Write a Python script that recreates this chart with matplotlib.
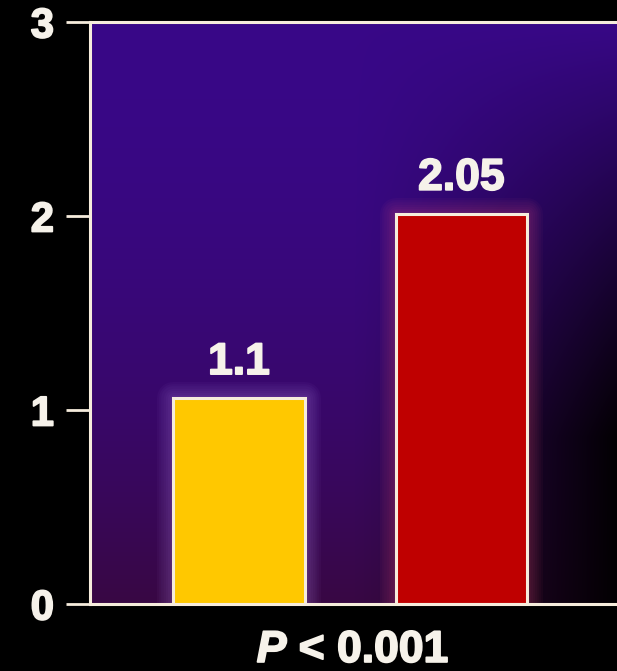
import numpy as np
import matplotlib
matplotlib.use("Agg")
import matplotlib.pyplot as plt
import matplotlib.patheffects as pe

plt.rcParams.update({
    "font.family": ["Liberation Sans", "DejaVu Sans"],
    "font.weight": "bold",
    "mathtext.fontset": "custom",
    "mathtext.it": "Liberation Sans:italic:bold",
    "mathtext.rm": "Liberation Sans:bold",
})

# bar data (heights, labels as printed)
groups = ["A", "B"]
heights = [1.06, 2.01]
value_labels = ["1.1", "2.05"]
bar_colors = ["#ffc800", "#bf0000"]
glow_colors = ["#c8a0ff", "#ff6080"]
yticks = [0, 1, 2, 3]
p_text = r"$\mathit{P}$ < 0.001"

edge = "#f6ecdc"
txt = "#f6f2ea"
heavy = [pe.withStroke(linewidth=1.3, foreground=txt)]

fig = plt.figure(figsize=(6.17, 6.71), dpi=100, facecolor="black")
ax = fig.add_axes([90 / 617, 1 - 604 / 671, 1 - 90 / 617, (604 - 22) / 671])
ax.set_facecolor("black")

xpos = np.arange(1, len(groups) + 1)
ax.set_xlim(0.33, 2.70)
ax.set_ylim(0, 3)

# gradient background: purple on top, dark maroon low, black at bottom-right
u, v = np.meshgrid(np.linspace(0, 1, 300), np.linspace(0, 1, 300))
dark = np.clip((u - 0.5) / 0.5, 0, 1) ** 1.2 * np.clip(v * 1.4, 0, 1)
r = 0.22 * (1 - 0.95 * dark)
g = 0.03 * (1 - dark)
b = 0.53 * (1 - 0.5 * v ** 2) * (1 - 0.97 * dark)
bg = np.dstack([r, g, b])
ax.imshow(bg, extent=[0, 1, 0, 1], transform=ax.transAxes, aspect="auto",
          zorder=0, origin="upper")

# soft glow around bars
for i in range(8):
    ax.bar(xpos, heights, width=0.59, color="none", edgecolor=glow_colors,
           linewidth=2 + i * 3, alpha=0.035, zorder=1, joinstyle="round")

ax.bar(xpos, heights, width=0.59, color=bar_colors, edgecolor=edge,
       linewidth=2.2, zorder=2)

for x, h, lab in zip(xpos, heights, value_labels):
    ax.annotate(lab, (x, h), xytext=(0, 11), textcoords="offset points",
                ha="center", va="bottom", color=txt, fontsize=32,
                fontweight="bold", zorder=3, path_effects=heavy)

ax.set_yticks(yticks)
ax.set_yticklabels([str(t) for t in yticks])
ax.set_xticks([])
ax.tick_params(axis="y", colors=edge, labelcolor=txt, labelsize=30,
               length=17, width=2, pad=9)
for t in ax.get_yticklabels():
    t.set_path_effects(heavy)

for s in ["left", "bottom", "top"]:
    ax.spines[s].set_color(edge)
    ax.spines[s].set_linewidth(2.2)
ax.spines["right"].set_visible(False)

fig.text(353 / 617, 1 - 662 / 671, p_text, ha="center", va="baseline",
         color=txt, fontsize=32, fontweight="bold", path_effects=heavy)

fig.savefig("out.png", dpi=100, facecolor="black")
